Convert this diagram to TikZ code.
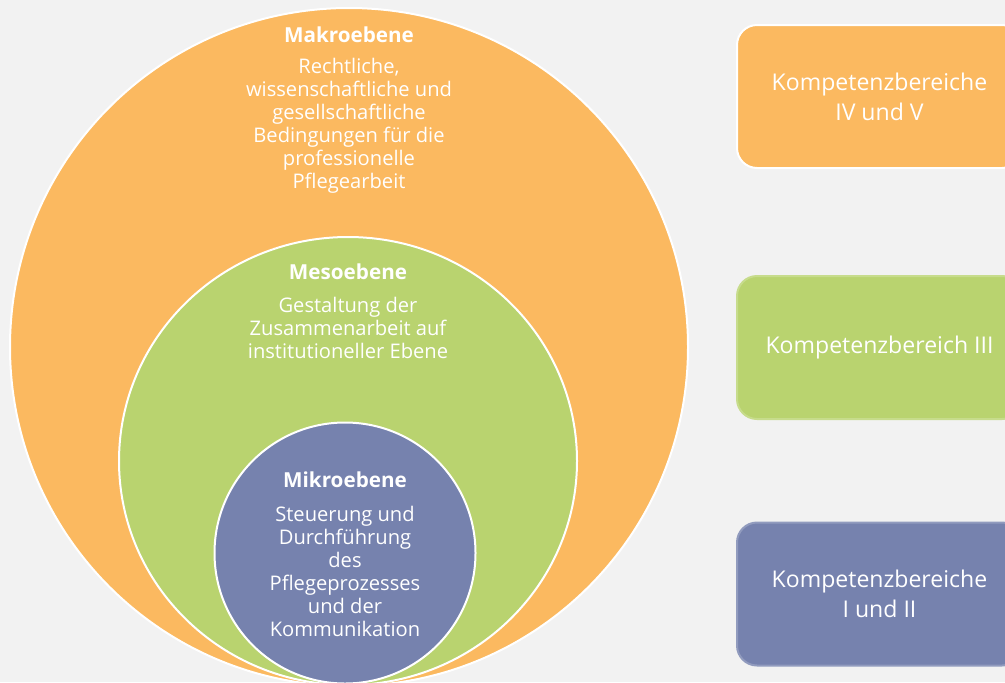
\documentclass[tikz,border=0pt]{standalone}
\usepackage{fontspec}
\setmainfont{Open Sans}
\usetikzlibrary{shapes.geometric}
\definecolor{bg}{HTML}{F2F2F2}
\definecolor{orng}{HTML}{FBB960}
\definecolor{grn}{HTML}{B9D36F}
\definecolor{blu}{HTML}{7682AE}
\tikzset{
  ring/.style={draw=white, line width=1.5pt, inner sep=0pt},
  body/.style={text=white, align=center, font=\fontsize{15.1}{17.25}\selectfont},
  ttl/.style={text=white, font=\bfseries\fontsize{15.5}{17.25}\selectfont},
  kbox/.style={rounded corners=15pt, line width=1.5pt, minimum width=285*0.75pt, minimum height=143*0.75pt, text=white, align=center, font=\fontsize{17.3}{22.5}\selectfont}
}
\begin{document}
\begin{tikzpicture}[x=0.75pt,y=-0.75pt]
\clip (0,0) rectangle (1005,682);
\fill[bg] (0,0) rectangle (1005,682);
\node[ring, circle, fill=orng, minimum size=678*0.75pt] (makro) at (349,347) {};
\node[ring, ellipse, fill=grn, minimum width=458*0.75pt, minimum height=448*0.75pt] (meso) at (348,461) {};
\node[ring, circle, fill=blu, minimum size=261*0.75pt] (mikro) at (345,553) {};
\node[ttl] (makrot) at (349,35) {Makroebene};
\node[body] (makrob) at (349,126) {Rechtliche,\\wissenschaftliche und\\gesellschaftliche\\Bedingungen für die\\professionelle\\Pflegearbeit};
\node[ttl] (mesot) at (348,272) {Mesoebene};
\node[body] (mesob) at (348,328) {Gestaltung der\\Zusammenarbeit auf\\institutioneller Ebene};
\node[ttl] (mikrot) at (345,480) {Mikroebene};
\node[body] (mikrob) at (345,571) {Steuerung und\\Durchführung\\des\\Pflegeprozesses\\und der\\Kommunikation};
\node[kbox, fill=orng, draw=white] (k45) at (879.5,96.5) {Kompetenzbereiche\\IV und V};
\node[kbox, fill=grn, draw=grn!80!white] (k3) at (879.5,347.5) {Kompetenzbereich III};
\node[kbox, fill=blu, draw=blu!80!white] (k12) at (879.5,594) {Kompetenzbereiche\\I und II};
\end{tikzpicture}
\end{document}
